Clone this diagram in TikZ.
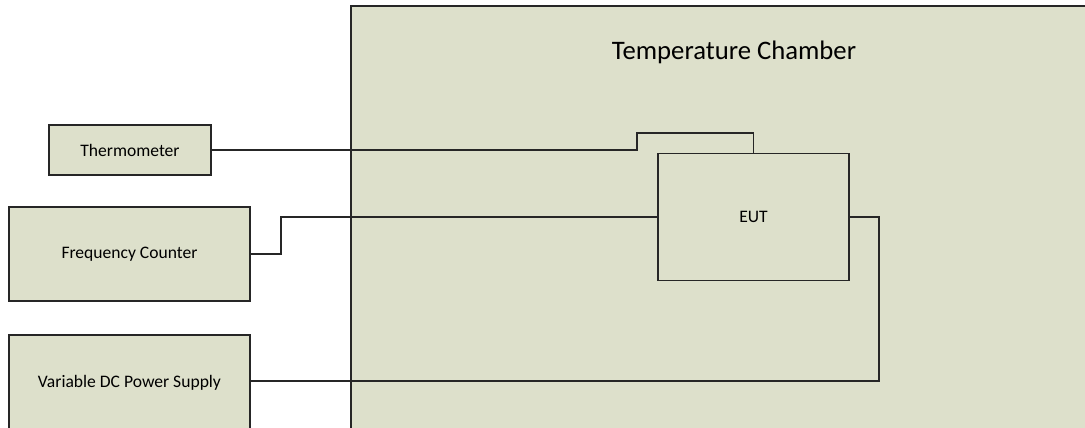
\documentclass[tikz,border=0pt]{standalone}
\usepackage{fontspec}
\setmainfont{Carlito}
\definecolor{chamberfill}{HTML}{DDE0CB}
\definecolor{linegray}{HTML}{262626}

\begin{document}
\begin{tikzpicture}[x=0.02cm, y=-0.02cm,
		device/.style={draw=linegray, line width=0.9pt, fill=chamberfill, font=\fontsize{10}{12}\selectfont, inner sep=0pt},
		wire/.style={draw=linegray, line width=0.9pt}]
		\useasboundingbox (0,0) rectangle (1085,427);
		\clip (0,0) rectangle (1085,427);
		\fill[white] (0,0) rectangle (1085,427);
		\filldraw[fill=chamberfill, draw=linegray, line width=1.1pt] (351,6) rectangle (1095,440);
		\node (title) at (734,52) {\fontsize{15.2}{18}\selectfont Temperature Chamber};
		\node[device, minimum width=3.24cm, minimum height=1.0cm] (thermo) at (130,150) {Thermometer};
		\node[device, minimum width=4.82cm, minimum height=1.88cm] (counter) at (129.5,254) {Frequency Counter};
		\node[device, minimum width=4.82cm, minimum height=2.0cm, text height=7pt, text depth=4.7pt] (supply) at (129.5,385) {Variable DC Power Supply};
		\node[device, minimum width=3.82cm, minimum height=2.54cm] (eut) at (753.5,217) {EUT};
		\coordinate (supplyout) at ([yshift=0.08cm]supply.east);
		\draw[wire] (thermo.east) -| (637,133) -| (eut.north);
		\draw[wire] (counter.east) -| (281,217) -- (eut.west);
		\draw[wire] (supplyout) -| (879,217) -- (eut.east);
	\end{tikzpicture}
\end{document}
